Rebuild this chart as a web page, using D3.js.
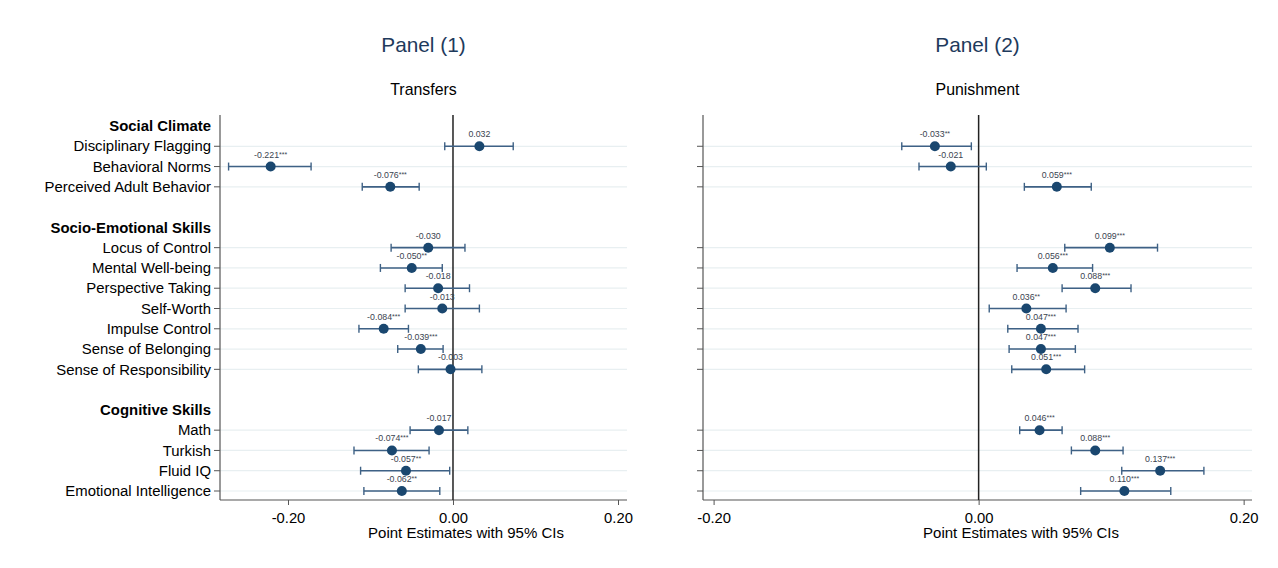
<!DOCTYPE html>
<html><head><meta charset="utf-8">
<script src="https://cdn.jsdelivr.net/npm/d3@7"></script>
<style>body{margin:0;background:#fff;font-family:"Liberation Sans",Arial,sans-serif;}</style>
</head><body><svg id="c" width="1278" height="568"></svg>
<script>
// rows: headers and items in display order ("" = spacer)
const rows = ["H:Social Climate","Disciplinary Flagging","Behavioral Norms","Perceived Adult Behavior","",
  "H:Socio-Emotional Skills","Locus of Control","Mental Well-being","Perspective Taking","Self-Worth","Impulse Control","Sense of Belonging","Sense of Responsibility","",
  "H:Cognitive Skills","Math","Turkish","Fluid IQ","Emotional Intelligence"];
const items = ["Disciplinary Flagging","Behavioral Norms","Perceived Adult Behavior","Locus of Control","Mental Well-being","Perspective Taking","Self-Worth","Impulse Control","Sense of Belonging","Sense of Responsibility","Math","Turkish","Fluid IQ","Emotional Intelligence"];
// Panel 1: Transfers
const est1 = [0.032,-0.221,-0.076,-0.030,-0.050,-0.018,-0.013,-0.084,-0.039,-0.003,-0.017,-0.074,-0.057,-0.062];
const lo1  = [-0.010,-0.272,-0.110,-0.075,-0.088,-0.058,-0.058,-0.114,-0.067,-0.042,-0.052,-0.120,-0.112,-0.108];
const hi1  = [0.073,-0.172,-0.041,0.0145,-0.013,0.020,0.032,-0.054,-0.012,0.035,0.018,-0.029,-0.004,-0.016];
const stars1 = ["","***","***","","**","","","***","***","","","***","**","**"];
// Panel 2: Punishment
const est2 = [-0.033,-0.021,0.059,0.099,0.056,0.088,0.036,0.047,0.047,0.051,0.046,0.088,0.137,0.110];
const lo2  = [-0.058,-0.045,0.0345,0.065,0.029,0.063,0.008,0.022,0.023,0.025,0.031,0.070,0.108,0.077];
const hi2  = [-0.0055,0.0058,0.085,0.135,0.086,0.115,0.066,0.075,0.073,0.080,0.063,0.109,0.170,0.145];
const stars2 = ["**","","***","***","***","***","**","***","***","***","***","***","***","***"];
const xTicks = [-0.2,0,0.2];

const svg = d3.select("#c");
const navy = "#1a476f";
const fmt = (p)=> v => d3.format(p)(v).replace("\u2212","-");
const y = d3.scalePoint().domain(d3.range(rows.length)).range([126,491]);
const rowIdx = name => rows.indexOf(name);

function panel(cfg){
  const g = svg.append("g");
  const x = d3.scaleLinear().domain(cfg.domain).range([cfg.left, cfg.right]);
  const top = 115, bottom = 500;
  items.forEach(it=>{
    g.append("line").attr("x1",cfg.left).attr("x2",cfg.right).attr("y1",y(rowIdx(it))).attr("y2",y(rowIdx(it)))
      .attr("stroke","#e8eff1").attr("stroke-width",1.2);
  });
  g.append("line").attr("x1",cfg.left).attr("x2",cfg.left).attr("y1",top).attr("y2",bottom).attr("stroke","#555").attr("stroke-width",1.2);
  items.forEach(it=>{
    g.append("line").attr("x1",cfg.left-6).attr("x2",cfg.left).attr("y1",y(rowIdx(it))).attr("y2",y(rowIdx(it))).attr("stroke","#555").attr("stroke-width",1);
  });
  if(cfg.labels){
    rows.forEach((r,i)=>{
      if(!r) return;
      const h = r.startsWith("H:");
      g.append("text").attr("x",cfg.left-9).attr("y",y(i)).attr("dy","0.35em").attr("text-anchor","end")
        .attr("font-size",14.9).attr("font-weight",h?"bold":"normal").attr("fill","#000").text(h?r.slice(2):r);
    });
  }
  const ax = g.append("g").attr("transform",`translate(0,${bottom})`)
    .call(d3.axisBottom(x).tickValues(xTicks).tickSize(5).tickPadding(7).tickFormat(fmt(".2f")));
  ax.select(".domain").remove();
  g.append("line").attr("x1",cfg.left).attr("x2",cfg.right).attr("y1",bottom).attr("y2",bottom).attr("stroke","#555").attr("stroke-width",1.2);
  ax.selectAll("line").attr("stroke","#555");
  ax.selectAll("text").attr("font-size",14.8).attr("fill","#000").attr("font-family","Liberation Sans, Arial, sans-serif");
  g.append("line").attr("x1",x(0)).attr("x2",x(0)).attr("y1",top).attr("y2",bottom).attr("stroke","#222").attr("stroke-width",1.5);
  items.forEach((it,i)=>{
    const yy = y(rowIdx(it));
    g.append("line").attr("x1",x(cfg.lo[i])).attr("x2",x(cfg.hi[i])).attr("y1",yy).attr("y2",yy).attr("stroke","#3e6185").attr("stroke-width",1.6);
    [cfg.lo[i],cfg.hi[i]].forEach(v=>g.append("line").attr("x1",x(v)).attr("x2",x(v)).attr("y1",yy-4).attr("y2",yy+4).attr("stroke","#3e6185").attr("stroke-width",1.4));
    g.append("circle").attr("cx",x(cfg.est[i])).attr("cy",yy).attr("r",5).attr("fill",navy);
    const t = g.append("text").attr("x",x(cfg.est[i])).attr("y",yy-9).attr("text-anchor","middle").attr("font-size",8.8).attr("fill","#3a4450");
    t.append("tspan").text(fmt(".3f")(cfg.est[i]));
    if(cfg.stars[i]) t.append("tspan").attr("font-size",7).attr("dy",-1).text(cfg.stars[i]);
  });
  const cx = (cfg.left+cfg.right)/2;
  svg.append("text").attr("x",cx).attr("y",52).attr("text-anchor","middle").attr("font-size",20.8).attr("fill","#1e3a5c").text(cfg.title);
  svg.append("text").attr("x",cx).attr("y",95).attr("text-anchor","middle").attr("font-size",15.9).attr("fill","#000").text(cfg.sub);
  svg.append("text").attr("x",cfg.xtitleX).attr("y",538).attr("text-anchor","middle").attr("font-size",15).attr("fill","#000").text("Point Estimates with 95% CIs");
}

panel({left:220,right:627,domain:[-0.2824,0.2109],labels:true,est:est1,lo:lo1,hi:hi1,stars:stars1,title:"Panel (1)",sub:"Transfers",xtitleX:466});
panel({left:703,right:1252,domain:[-0.208,0.2063],labels:false,est:est2,lo:lo2,hi:hi2,stars:stars2,title:"Panel (2)",sub:"Punishment",xtitleX:1021});
</script></body></html>
